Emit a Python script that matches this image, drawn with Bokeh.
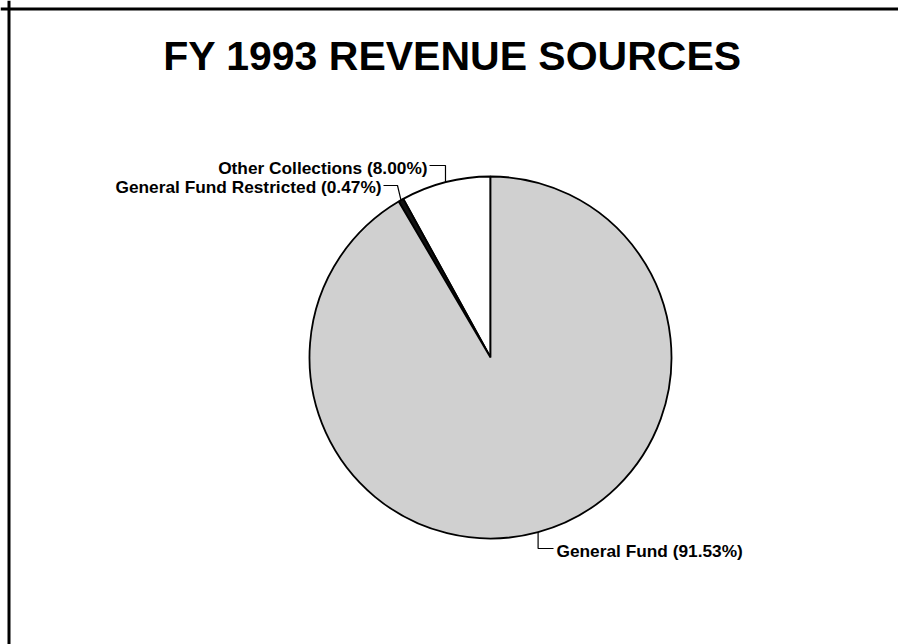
import numpy as np
from bokeh.plotting import figure
from bokeh.models import Range1d, Label, Span
from bokeh.embed import file_html
from bokeh.resources import INLINE
from bokeh.core.properties import value

# ---- data ----
title_text = "FY 1993 REVENUE SOURCES"
categories = ["Other Collections", "General Fund Restricted", "General Fund"]
shares = [8.00, 0.47, 91.53]
colors = ["#ffffff", "#111111", "#d0d0d0"]

FONT = "Liberation Sans"
W, H = 898, 644
p = figure(width=W, height=H, x_range=Range1d(0, W), y_range=Range1d(0, H),
           output_backend="svg", toolbar_location=None, min_border=0)
p.axis.visible = False
p.grid.visible = False
p.outline_line_color = None
p.background_fill_color = "white"
p.border_fill_color = "white"


def Y(py):
    return H - py


# frame lines (top and left)
p.add_layout(Span(location=Y(8.5), dimension="width", line_color="black", line_width=3))
p.add_layout(Span(location=8.5, dimension="height", line_color="black", line_width=3))

# pie
cx, cy, r = 490, Y(357), 181
frac = np.array(shares) / 100.0
ang = 2 * np.pi * frac
start = np.pi / 2 + np.concatenate([[0.0], np.cumsum(ang)[:-1]])
end = start + ang
p.wedge(x=cx, y=cy, radius=r, radius_units="screen", start_angle=start, end_angle=end,
        direction="anticlock", fill_color=colors, line_color="black", line_width=1.8)

mid = (start + end) / 2
ax = cx + r * np.cos(mid)
ay = cy + r * np.sin(mid)

labels = [f"{c} ({s:.2f}%)" for c, s in zip(categories, shares)]

# leader lines
xs = [[ax[0], ax[0], 429],
      [ax[1], 397, 383],
      [ax[2], ax[2], 553]]
ys = [[ay[0], Y(165), Y(165)],
      [ay[1], Y(185), Y(185)],
      [ay[2], Y(548), Y(548)]]
p.multi_line(xs=xs, ys=ys, line_color="black", line_width=1.2)

lab_pos = [(427, Y(167), "right"), (381, Y(186), "right"), (556, Y(550), "left")]
for txt, (x, y, al) in zip(labels, lab_pos):
    p.add_layout(Label(x=x, y=y, text=txt, text_font=FONT, text_font_size="17.3px",
                       text_font_style="bold", text_align=al, text_baseline="middle",
                       text_color="black"))

p.add_layout(Label(x=452, y=Y(55), text=title_text, text_font=FONT, text_font_size="41px",
                   text_font_style="bold", text_align="center", text_baseline="alphabetic",
                   text_color="black"))

open("out.html", "w").write(file_html(p, INLINE))
